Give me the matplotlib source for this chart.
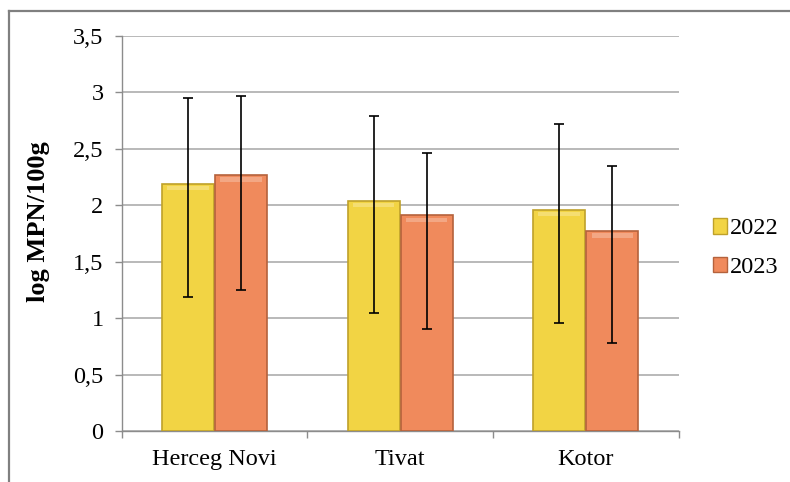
#!/usr/bin/env python3
import matplotlib
matplotlib.use('Agg')
import matplotlib.pyplot as plt
from matplotlib.lines import Line2D
from matplotlib.patches import Patch
import numpy as np


locations = ['Herceg Novi', 'Tivat', 'Kotor']
years = ['2022', '2023']

mean_2022 = [2.19, 2.04, 1.96]
mean_2023 = [2.265, 1.91, 1.77]

# error bar ends (read from the picture, not symmetric)
upper_2022 = [2.947, 2.787, 2.716]
lower_2022 = [1.19, 1.045, 0.954]
upper_2023 = [2.967, 2.459, 2.35]
lower_2023 = [1.249, 0.903, 0.777]

yticks = [0, 0.5, 1, 1.5, 2, 2.5, 3, 3.5]
ytick_labels = ['0', '0,5', '1', '1,5', '2', '2,5', '3', '3,5']

plt.rcParams['font.family'] = ['Liberation Serif', 'DejaVu Serif']

fig = plt.figure(figsize=(7.9, 4.82), dpi=100)
ax = fig.add_axes([0.154, 0.1058, 0.705, 0.820])

x = np.arange(len(locations))
w = 0.28

cols = {'2022': ('#f2d444', '#bfa12a'), '2023': ('#f08a5c', '#b5623c')}
series = [
    (mean_2022, lower_2022, upper_2022, -w / 2 - 0.003, '2022'),
    (mean_2023, lower_2023, upper_2023, w / 2 + 0.003, '2023'),
]

for means, lo, hi, off, yr in series:
    fc, ec = cols[yr]
    means = np.array(means)
    ax.bar(x + off, means, w, color=fc, edgecolor=ec, linewidth=1.2, zorder=3)
    # light bevel on the top of each bar
    ax.bar(x + off, means * 0 + 0.04, w * 0.8, bottom=means - 0.06,
           color='white', alpha=0.25, linewidth=0, zorder=4)
    err = [means - np.array(lo), np.array(hi) - means]
    ax.errorbar(x + off, means, yerr=err, fmt='none', ecolor='black',
                elinewidth=1.2, capsize=3.3, capthick=1.2, zorder=5)

ax.set_xlim(-0.5, 2.5)
ax.set_ylim(0, 3.5)
ax.set_yticks(yticks)
ax.set_yticklabels(ytick_labels, fontsize=17.5)
ax.yaxis.grid(True, color='#a6a6a6', linewidth=1.1, zorder=0)
ax.set_axisbelow(True)

ax.set_xticks([-0.5, 0.5, 1.5, 2.5])
ax.set_xticklabels([])
ax.set_xticks(x, minor=True)
ax.set_xticklabels(locations, minor=True, fontsize=17.5)
ax.tick_params(axis='x', which='major', direction='out', length=5,
               color='#8c8c8c', width=1)
ax.tick_params(axis='x', which='minor', length=0, pad=13)
ax.tick_params(axis='y', direction='out', length=5, color='#8c8c8c',
               width=1, pad=8)

for s in ['top', 'right']:
    ax.spines[s].set_visible(False)
for s in ['left', 'bottom']:
    ax.spines[s].set_color('#8c8c8c')
    ax.spines[s].set_linewidth(1)

ax.set_ylabel('log MPN/100g', fontsize=19, fontweight='bold')
ax.yaxis.set_label_coords(-0.129, 0.529)

handles = [Patch(facecolor=cols[y][0], edgecolor=cols[y][1], linewidth=1)
           for y in years]
fig.legend(handles, years, loc='center left',
           bbox_to_anchor=(0.902, 0.485), frameon=False, fontsize=17.5,
           handlelength=0.6, handleheight=0.6, handletextpad=0.12,
           labelspacing=0.72, borderpad=0, borderaxespad=0)

# outer frame (left and top edges visible)
fig.add_artist(Line2D([0.0114, 0.0114], [0, 0.977], color='#808080',
                      linewidth=1.6, transform=fig.transFigure))
fig.add_artist(Line2D([0.0114, 1], [0.977, 0.977], color='#808080',
                      linewidth=1.6, transform=fig.transFigure))

fig.savefig('out.png', dpi=100)
